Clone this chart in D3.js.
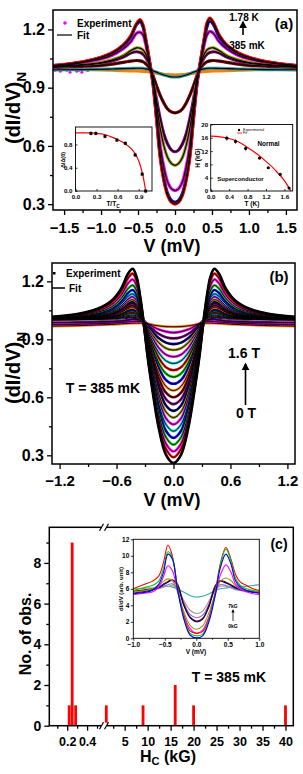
<!DOCTYPE html>
<html><head><meta charset="utf-8">
<script src="https://cdn.jsdelivr.net/npm/d3@7"></script>
<style>
body{margin:0;background:#fff}
svg{display:block}
</style></head><body>
<svg id="c" width="303" height="774"></svg>
<script>
// ---------------- DATA ----------------
// Panel (a): temperature series 385 mK -> 1.78 K
const aV = [-1.65,-1.25,-1.0,-0.85,-0.7,-0.6,-0.52,-0.47,-0.43,-0.4,-0.36,-0.33,-0.3,-0.25,-0.2,-0.15,-0.1,-0.05,0,0.05,0.1,0.15,0.2,0.25,0.3,0.33,0.36,0.4,0.43,0.47,0.52,0.6,0.7,0.85,1.0,1.25,1.65];
const aOrange = [0.998,0.994,0.992,0.99,0.988,0.987,0.986,0.985,0.984,0.983,0.982,0.98,0.978,0.975,0.972,0.969,0.967,0.966,0.965,0.966,0.967,0.969,0.972,0.975,0.978,0.98,0.982,0.983,0.984,0.985,0.986,0.987,0.988,0.99,0.992,0.994,0.997];
const aTeal = [0.992,0.993,0.995,0.996,0.998,0.999,1.0,1.0,0.999,0.997,0.994,0.991,0.987,0.98,0.972,0.965,0.96,0.956,0.955,0.956,0.96,0.965,0.972,0.98,0.987,0.991,0.994,0.997,0.999,1.0,1.0,0.999,0.998,0.996,0.995,0.993,0.992];
const aMaroon = [1.005,1.01,1.015,1.021,1.03,1.037,1.04,1.038,1.033,1.025,1.01,0.99,0.965,0.91,0.86,0.82,0.79,0.775,0.77,0.775,0.79,0.82,0.86,0.91,0.965,0.99,1.01,1.025,1.033,1.038,1.04,1.037,1.03,1.021,1.015,1.01,1.005];
const aPurple = [1.007,1.016,1.026,1.038,1.058,1.078,1.085,1.081,1.072,1.058,1.03,1.0,0.955,0.84,0.74,0.66,0.61,0.58,0.57,0.58,0.61,0.66,0.74,0.84,0.955,1.0,1.03,1.058,1.072,1.081,1.085,1.078,1.058,1.038,1.026,1.016,1.007];
const aOlive = [1.008,1.019,1.03,1.043,1.065,1.09,1.105,1.103,1.093,1.075,1.04,1.0,0.95,0.81,0.69,0.60,0.54,0.51,0.50,0.51,0.54,0.60,0.69,0.81,0.95,1.0,1.04,1.075,1.093,1.103,1.105,1.09,1.065,1.043,1.03,1.019,1.008];
const aMagenta = [1.005,1.03,1.048,1.067,1.10,1.135,1.18,1.185,1.17,1.13,1.06,1.0,0.94,0.77,0.60,0.49,0.415,0.38,0.37,0.38,0.415,0.49,0.60,0.77,0.94,1.0,1.06,1.13,1.17,1.19,1.18,1.135,1.10,1.067,1.048,1.03,1.012];
const aBlue = [1.013,1.032,1.055,1.077,1.115,1.16,1.225,1.24,1.21,1.155,1.07,1.0,0.93,0.745,0.55,0.43,0.355,0.32,0.31,0.32,0.355,0.43,0.55,0.745,0.93,1.0,1.07,1.155,1.21,1.245,1.225,1.16,1.115,1.077,1.055,1.032,1.013];
const aRed = [1.014,1.033,1.057,1.08,1.12,1.165,1.23,1.25,1.22,1.16,1.07,1.0,0.93,0.74,0.54,0.42,0.345,0.31,0.30,0.31,0.345,0.42,0.54,0.74,0.93,1.0,1.07,1.165,1.23,1.258,1.235,1.17,1.12,1.08,1.057,1.033,1.014];
const aSeries = [aOrange,aTeal,aMaroon,aPurple,aOlive,aMagenta,aBlue,aRed];
const aColors = ["#ff8000","#339999","#800000","#800080","#999900","#ff00ff","#0000ff","#ff0000"];
// scattered magenta points at the far left of (a)
const aScatterV = [-1.62,-1.58,-1.55,-1.5,-1.46,-1.42,-1.38,-1.33,-1.3,-1.26,-1.22,-1.18];
const aScatterY = [0.99,0.995,0.985,1.0,0.99,0.98,0.995,0.985,0.99,0.98,0.993,0.988];
const aXTicks = [-1.5,-1.0,-0.5,0.0,0.5,1.0,1.5];
const aYTicks = [0.3,0.6,0.9,1.2];

// Inset (a-left): gap vs T/Tc
const gapT = [0.22,0.29,0.42,0.59,0.71,0.85,0.95,1.0];
const gapV = [0.99,0.99,0.94,0.875,0.82,0.62,0.29,0.0];
const gapFitT = [0,0.2,0.3,0.4,0.5,0.6,0.7,0.8,0.85,0.9,0.95,0.975,0.99,1.0];
const gapFitV = [1.0,1.0,0.99,0.975,0.935,0.885,0.82,0.72,0.64,0.52,0.32,0.18,0.07,0.0];
// Inset (a-right): H vs T
const hcT = [0.35,0.54,0.76,1.06,1.25,1.51,1.70];
const hcH = [15.9,14.9,12.8,9.9,7.0,5.0,0.9];
const hcFitT = [0,0.2,0.4,0.6,0.8,1.0,1.2,1.4,1.6,1.74];
const hcFitH = [16.5,16.3,15.8,14.8,13.1,11.2,8.9,6.3,3.1,0];

// Panel (b): field series 0 T -> 1.6 T at 385 mK
const bV = [-1.28,-1.0,-0.8,-0.65,-0.55,-0.48,-0.43,-0.39,-0.35,-0.31,-0.27,-0.22,-0.16,-0.08,0,0.08,0.16,0.22,0.27,0.31,0.35,0.39,0.43,0.48,0.55,0.65,0.8,1.0,1.28];
const bCurves = [
[1.016,1.032,1.058,1.101,1.164,1.239,1.265,1.225,1.119,0.969,0.80,0.63,0.452,0.304,0.26,0.304,0.452,0.63,0.80,0.969,1.119,1.225,1.265,1.239,1.164,1.101,1.058,1.032,1.016],
[1.014,1.029,1.053,1.091,1.149,1.216,1.24,1.204,1.108,0.969,0.808,0.645,0.475,0.333,0.29,0.333,0.475,0.645,0.808,0.969,1.108,1.204,1.24,1.216,1.149,1.091,1.053,1.029,1.014],
[1.013,1.025,1.046,1.08,1.13,1.189,1.21,1.179,1.095,0.97,0.816,0.66,0.497,0.361,0.32,0.361,0.497,0.66,0.816,0.97,1.095,1.179,1.21,1.189,1.13,1.08,1.046,1.025,1.013],
[1.011,1.022,1.04,1.068,1.112,1.162,1.18,1.153,1.081,0.97,0.826,0.678,0.523,0.394,0.355,0.394,0.523,0.678,0.826,0.97,1.081,1.153,1.18,1.162,1.112,1.068,1.04,1.022,1.011],
[1.009,1.019,1.034,1.059,1.096,1.14,1.155,1.132,1.07,0.971,0.835,0.695,0.549,0.427,0.39,0.427,0.549,0.695,0.835,0.971,1.07,1.132,1.155,1.14,1.096,1.059,1.034,1.019,1.009],
[1.008,1.016,1.03,1.051,1.084,1.122,1.135,1.115,1.061,0.972,0.845,0.713,0.575,0.46,0.425,0.46,0.575,0.713,0.845,0.972,1.061,1.115,1.135,1.122,1.084,1.051,1.03,1.016,1.008],
[1.007,1.014,1.026,1.046,1.074,1.108,1.12,1.102,1.054,0.974,0.854,0.73,0.60,0.492,0.46,0.492,0.60,0.73,0.854,0.974,1.054,1.102,1.12,1.108,1.074,1.046,1.026,1.014,1.007],
[1.006,1.013,1.023,1.04,1.065,1.095,1.105,1.089,1.047,0.975,0.864,0.748,0.626,0.525,0.495,0.525,0.626,0.748,0.864,0.975,1.047,1.089,1.105,1.095,1.065,1.04,1.023,1.013,1.006],
[1.006,1.011,1.021,1.036,1.059,1.086,1.095,1.081,1.043,0.977,0.873,0.765,0.652,0.558,0.53,0.558,0.652,0.765,0.873,0.977,1.043,1.081,1.095,1.086,1.059,1.036,1.021,1.011,1.006],
[1.005,1.01,1.019,1.032,1.053,1.077,1.085,1.072,1.038,0.978,0.883,0.783,0.678,0.591,0.565,0.591,0.678,0.783,0.883,0.978,1.038,1.072,1.085,1.077,1.053,1.032,1.019,1.01,1.005],
[1.005,1.009,1.017,1.029,1.047,1.068,1.075,1.064,1.034,0.98,0.892,0.80,0.704,0.624,0.60,0.624,0.704,0.80,0.892,0.98,1.034,1.064,1.075,1.068,1.047,1.029,1.017,1.009,1.005],
[1.004,1.008,1.014,1.025,1.04,1.059,1.065,1.055,1.029,0.981,0.901,0.818,0.73,0.657,0.635,0.657,0.73,0.818,0.901,0.981,1.029,1.055,1.065,1.059,1.04,1.025,1.014,1.008,1.004],
[1.003,1.007,1.012,1.021,1.034,1.05,1.055,1.047,1.025,0.983,0.911,0.835,0.756,0.69,0.67,0.69,0.756,0.835,0.911,0.983,1.025,1.047,1.055,1.05,1.034,1.021,1.012,1.007,1.003],
[1.003,1.006,1.01,1.018,1.029,1.042,1.047,1.04,1.021,0.985,0.92,0.853,0.782,0.723,0.705,0.723,0.782,0.853,0.92,0.985,1.021,1.04,1.047,1.042,1.029,1.018,1.01,1.006,1.003],
[1.002,1.005,1.009,1.015,1.025,1.036,1.04,1.034,1.018,0.986,0.93,0.87,0.808,0.756,0.74,0.756,0.808,0.87,0.93,0.986,1.018,1.034,1.04,1.036,1.025,1.015,1.009,1.005,1.002],
[1.002,1.004,1.007,1.013,1.02,1.03,1.033,1.028,1.015,0.988,0.939,0.888,0.834,0.789,0.775,0.789,0.834,0.888,0.939,0.988,1.015,1.028,1.033,1.03,1.02,1.013,1.007,1.004,1.002],
[1.002,1.003,1.006,1.01,1.016,1.023,1.026,1.022,1.012,0.99,0.949,0.905,0.859,0.821,0.81,0.821,0.859,0.905,0.949,0.99,1.012,1.022,1.026,1.023,1.016,1.01,1.006,1.003,1.002],
[1.001,1.002,1.004,1.008,1.012,1.018,1.02,1.017,1.009,0.992,0.958,0.923,0.885,0.854,0.845,0.854,0.885,0.923,0.958,0.992,1.009,1.017,1.02,1.018,1.012,1.008,1.004,1.002,1.001],
[1.001,1.002,1.003,1.005,1.009,1.013,1.014,1.012,1.006,0.993,0.966,0.938,0.908,0.883,0.875,0.883,0.908,0.938,0.966,0.993,1.006,1.012,1.014,1.013,1.009,1.005,1.003,1.002,1.001],
[0.987,0.988,0.99,0.992,0.995,1.0,1.004,1.003,1.0,0.995,0.974,0.953,0.93,0.911,0.905,0.911,0.93,0.953,0.974,0.995,1.0,1.003,1.004,1.0,0.995,0.992,0.99,0.988,0.987],
[0.976,0.978,0.981,0.984,0.987,0.99,0.992,0.993,0.993,0.99,0.98,0.967,0.952,0.94,0.935,0.94,0.952,0.967,0.98,0.99,0.993,0.993,0.992,0.99,0.987,0.984,0.981,0.978,0.976],
[0.968,0.971,0.974,0.977,0.98,0.982,0.983,0.984,0.984,0.983,0.98,0.975,0.97,0.966,0.965,0.966,0.97,0.975,0.98,0.983,0.984,0.984,0.983,0.982,0.98,0.977,0.974,0.971,0.968]
];
const bColors = ["#000000","#ff0000","#ff00ff","#00cc00","#0000ff","#00cccc","#ff00ff","#999900","#000080","#800080","#800000","#ff8000","#0000ff","#00cc00","#ff0000","#00cccc","#ff00ff","#999900","#000080","#800080","#ff00ff","#ff8000"];
const bXTicks = [-1.2,-0.6,0.0,0.6,1.2];
const bYTicks = [0.3,0.6,0.9,1.2];

// Panel (c): histogram of critical fields (broken x axis)
const hcValues = [0.22,0.25,0.285,1.0,9,16,20,40];
const hcCounts = [1,9,1,1,1,2,1,1];
const cXTicksLow = [0.2,0.4];
const cXTicksHigh = [5,10,15,20,25,30,35,40];
const cYTicks = [0,2,4,6,8];
// Inset (c): dI/dV vs V, 0 kG -> 7 kG
const cV = [-1,-0.9,-0.8,-0.7,-0.6,-0.52,-0.45,-0.38,-0.3,-0.2,-0.1,0,0.1,0.2,0.3,0.38,0.47,0.55,0.62,0.7,0.8,0.9,1.0];
const cCurves = [
[6.0,6.0,6.1,6.1,6.2,6.3,6.3,6.2,6.0,5.6,5.2,5.0,5.1,5.4,5.8,6.0,6.1,6.2,6.2,6.3,6.3,6.4,6.5],
[5.7,5.8,5.8,5.9,6.0,6.2,6.3,6.4,6.0,4.6,3.4,3.0,3.3,4.5,5.9,6.3,6.3,6.1,5.9,5.8,5.7,5.6,5.6],
[5.6,5.7,5.8,5.9,6.1,6.3,6.5,6.6,6.1,4.3,2.9,2.5,2.8,4.1,5.9,6.5,6.4,6.2,6.0,5.8,5.7,5.6,5.5],
[5.7,5.8,5.9,6.0,6.2,6.6,6.9,7.1,6.6,4.2,2.6,2.1,2.4,4.0,6.4,7.0,6.8,6.5,6.2,6.0,5.8,5.7,5.6],
[5.5,5.6,5.7,5.9,6.1,6.5,6.8,7.0,6.4,4.0,2.5,2.0,2.3,3.8,6.2,6.9,6.7,6.4,6.1,5.9,5.7,5.6,5.5],
[5.6,5.7,5.8,6.0,6.4,6.9,7.2,7.0,5.7,3.3,1.6,1.1,1.5,3.1,5.4,6.9,7.3,7.0,6.4,6.0,5.8,5.7,5.6],
[5.3,5.4,5.5,5.6,6.2,7.5,8.8,8.2,5.8,2.9,1.2,0.6,1.0,2.6,5.2,7.6,8.9,8.0,6.6,6.0,5.6,5.4,5.3],
[6.0,6.3,6.6,6.9,7.5,9.2,11.3,10.0,6.3,2.8,0.9,0.6,0.8,2.4,5.6,9.0,11.0,9.6,7.8,6.8,6.4,6.0,5.8],
[5.8,6.0,6.2,6.4,6.9,8.5,10.5,9.8,6.2,2.6,0.6,0.3,0.5,2.2,5.4,8.8,10.8,9.4,7.3,6.4,6.0,5.8,5.6],
[5.4,5.5,5.6,5.8,6.5,8.0,10.2,9.6,6.0,2.4,0.4,0.05,0.3,2.0,5.2,8.5,10.2,9.0,7.0,6.2,5.8,5.6,5.5]
];
const cColors = ["#33aaaa","#999999","#9966cc","#800000","#000080","#999900","#ff00ff","#ff0000","#00cc00","#0000ff"];

// ---------------- DRAWING ----------------
const ARIAL = '"Liberation Sans", Arial, sans-serif';
const svg = d3.select("#c");
const defs = svg.append("defs");
defs.append("marker").attr("id","ah").attr("viewBox","0 0 10 10").attr("refX",8).attr("refY",5)
  .attr("markerWidth",5).attr("markerHeight",5).attr("orient","auto")
  .append("path").attr("d","M0,0 L10,5 L0,10 z").attr("fill","#000");
defs.append("marker").attr("id","ahs").attr("viewBox","0 0 10 10").attr("refX",8).attr("refY",5)
  .attr("markerWidth",4).attr("markerHeight",4).attr("orient","auto")
  .append("path").attr("d","M0,0 L10,5 L0,10 z").attr("fill","#000");

function txt(g, x, y, s, size, anchor, opts={}) {
  const t = g.append("text").attr("x",x).attr("y",y).text(s)
    .attr("font-family", opts.family || ARIAL).attr("font-weight", opts.weight || "bold")
    .attr("font-size", size).attr("text-anchor", anchor || "start").attr("fill", opts.fill || "#000");
  if (opts.dominant) t.attr("dominant-baseline", opts.dominant);
  return t;
}
function styleAxis(g, size, family) {
  g.select(".domain").remove();
  g.selectAll("line").attr("stroke","#000").attr("stroke-width",1.3);
  g.selectAll("text").attr("font-family", family || ARIAL).attr("font-weight","bold").attr("font-size",size).attr("fill","#000");
}
function frame(g, x0, y0, x1, y1, w) {
  g.append("rect").attr("x",x0).attr("y",y0).attr("width",x1-x0).attr("height",y1-y0)
    .attr("fill","none").attr("stroke","#000").attr("stroke-width",w||1.5);
}
function clip(id, x0, y0, x1, y1) {
  defs.append("clipPath").attr("id",id).append("rect").attr("x",x0).attr("y",y0).attr("width",x1-x0).attr("height",y1-y0);
  return "url(#"+id+")";
}
function yTitle(g, x, y, main, sub, size) {
  const t = g.append("text").attr("transform",`translate(${x},${y}) rotate(-90)`).attr("text-anchor","middle")
    .attr("font-family",ARIAL).attr("font-weight","bold").attr("font-size",size);
  t.append("tspan").text(main);
  if (sub) t.append("tspan").text(sub).attr("font-size",size*0.68).attr("dy",size*0.3);
  return t;
}
const minorBetween = (arr, step) => arr.slice(0,-1).map((v,i)=>+(v+step).toFixed(3));

// ===== Panel (a) =====
{
  const L=53,R=297,T=10,B=210;
  const x = d3.scaleLinear([-1.65,1.65],[L,R]);
  const y = d3.scaleLinear([0.27,1.30],[B,T]);
  const g = svg.append("g");
  const cp = clip("clipA",L,T,R,B);
  const line = d3.line().x((d,i)=>x(aV[i])).y(d=>y(d)).curve(d3.curveCatmullRom.alpha(0.5));
  const cg = g.append("g").attr("clip-path",cp);
  cg.selectAll("circle.sc").data(aScatterY).enter().append("circle").attr("class","sc")
    .attr("cx",(d,i)=>x(aScatterV[i])).attr("cy",d=>y(d)).attr("r",1.5).attr("fill","#ff00ff");
  aSeries.forEach((s,k)=>cg.append("path").attr("d",line(s)).attr("fill","none").attr("stroke",aColors[k]).attr("stroke-width",3.2).attr("stroke-linecap","round"));
  aSeries.forEach((s,k)=>{ if(k>0) cg.append("path").attr("d",line(s)).attr("fill","none").attr("stroke","#000").attr("stroke-width",1.1); });

  // axes
  const xMin = [-1.25,-0.75,-0.25,0.25,0.75,1.25];
  const yMin = minorBetween(aYTicks,0.15);
  const gx = g.append("g").attr("transform",`translate(0,${B})`).call(d3.axisBottom(x).tickValues(aXTicks).tickSize(5).tickPadding(7).tickFormat(d3.format(".1f")));
  styleAxis(gx,15);
  const gx2 = g.append("g").attr("transform",`translate(0,${B})`).call(d3.axisBottom(x).tickValues(xMin).tickSize(3).tickFormat(""));
  styleAxis(gx2,15);
  const gy = g.append("g").attr("transform",`translate(${L},0)`).call(d3.axisLeft(y).tickValues(aYTicks).tickSize(5).tickPadding(3).tickFormat(d3.format(".1f")));
  styleAxis(gy,16);
  const gy2 = g.append("g").attr("transform",`translate(${L},0)`).call(d3.axisLeft(y).tickValues(yMin).tickSize(3).tickFormat(""));
  styleAxis(gy2,16);
  frame(g,L,T,R,B,1.5);
  txt(g,172,252,"V (mV)",18,"middle");
  yTitle(g,20,108,"(dI/dV)","N",20);

  // legend
  g.append("circle").attr("cx",65).attr("cy",23).attr("r",1.8).attr("fill","#ff00ff");
  txt(g,77,23,"Experiment",10,"start",{dominant:"central"});
  g.append("line").attr("x1",57).attr("x2",72).attr("y1",35).attr("y2",35).attr("stroke","#333").attr("stroke-width",1.5);
  txt(g,77,35,"Fit",10,"start",{dominant:"central"});
  txt(g,244,17,"1.78 K",10,"middle",{dominant:"central"});
  g.append("line").attr("x1",243).attr("x2",243).attr("y1",35).attr("y2",22).attr("stroke","#000").attr("stroke-width",1.6).attr("marker-end","url(#ah)");
  txt(g,247,45,"385 mK",10,"middle",{dominant:"central"});
  txt(g,284,23,"(a)",15,"middle",{dominant:"central"});

  // left inset
  {
    const l=75.5,r=152,t=127,b=191;
    const xi = d3.scaleLinear([0,1.09],[l,r]);
    const yi = d3.scaleLinear([0,1.1],[b,t]);
    g.append("rect").attr("x",l).attr("y",t).attr("width",r-l).attr("height",b-t).attr("fill","#fff");
    const ig = g.append("g");
    const ax1 = ig.append("g").attr("transform",`translate(0,${b})`).call(d3.axisBottom(xi).tickValues([0,0.3,0.6,0.9]).tickSize(-2).tickPadding(3.5).tickFormat(d3.format(".1f")));
    styleAxis(ax1,6.2);
    const ay1 = ig.append("g").attr("transform",`translate(${l},0)`).call(d3.axisLeft(yi).tickValues([0,0.4,0.8]).tickSize(-2).tickPadding(3).tickFormat(d3.format(".1f")));
    styleAxis(ay1,6.2);
    ig.selectAll("line").attr("stroke-width",0.8);
    const fl = d3.line().x((d,i)=>xi(gapFitT[i])).y(d=>yi(d)).curve(d3.curveMonotoneX);
    ig.append("path").attr("d",fl(gapFitV)).attr("fill","none").attr("stroke","#ff0000").attr("stroke-width",1.2);
    gapT.forEach((tv,i)=>{
      ig.append("line").attr("x1",xi(tv)).attr("x2",xi(tv)).attr("y1",yi(gapV[i]-0.035)).attr("y2",yi(gapV[i]+0.035)).attr("stroke","#666").attr("stroke-width",0.8);
      ig.append("rect").attr("x",xi(tv)-1.5).attr("y",yi(gapV[i])-1.5).attr("width",3).attr("height",3).attr("fill","#000");
    });
    frame(ig,l,t,r,b,0.9);
    const tt = txt(ig,113,206,"T/T",6.5,"middle");
    tt.append("tspan").text("C").attr("font-size",4.8).attr("dy",1.5);
    ig.append("text").attr("transform","translate(65,160) rotate(-90)").attr("text-anchor","middle")
      .attr("font-family",ARIAL).attr("font-weight","bold").attr("font-size",5.5).text("Δ/Δ(0)");
  }
  // right inset
  {
    const l=210.7,r=292.7,t=124.5,b=191;
    const xi = d3.scaleLinear([0,1.78],[l,r]);
    const yi = d3.scaleLinear([0,20],[b,t]);
    g.append("rect").attr("x",l).attr("y",t).attr("width",r-l).attr("height",b-t).attr("fill","#fff");
    const ig = g.append("g");
    const ax1 = ig.append("g").attr("transform",`translate(0,${b})`).call(d3.axisBottom(xi).tickValues([0,0.4,0.8,1.2,1.6]).tickSize(-2).tickPadding(3.5).tickFormat(d3.format(".1f")));
    styleAxis(ax1,6.2);
    const ay1 = ig.append("g").attr("transform",`translate(${l},0)`).call(d3.axisLeft(yi).tickValues([0,4,8,12,16,20]).tickSize(-2).tickPadding(2.5).tickFormat(d3.format("d")));
    styleAxis(ay1,6.2);
    ig.selectAll("line").attr("stroke-width",0.8);
    const fl = d3.line().x((d,i)=>xi(hcFitT[i])).y(d=>yi(d)).curve(d3.curveMonotoneX);
    ig.append("path").attr("d",fl(hcFitH)).attr("fill","none").attr("stroke","#ff0000").attr("stroke-width",1.2);
    hcT.forEach((tv,i)=>{
      if(i<3) ig.append("line").attr("x1",xi(tv)).attr("x2",xi(tv)).attr("y1",yi(hcH[i]-0.8)).attr("y2",yi(hcH[i]+0.8)).attr("stroke","#666").attr("stroke-width",0.8);
      ig.append("circle").attr("cx",xi(tv)).attr("cy",yi(hcH[i])).attr("r",1.6).attr("fill","#000");
    });
    frame(ig,l,t,r,b,0.9);
    ig.append("circle").attr("cx",239).attr("cy",130).attr("r",1.2).attr("fill","#000");
    txt(ig,243,130,"Experimental",3.6,"start",{dominant:"central",weight:"normal"});
    ig.append("line").attr("x1",237).attr("x2",242).attr("y1",133).attr("y2",133).attr("stroke","#ff0000").attr("stroke-width",0.8);
    txt(ig,243,133.2,"Fit",3.6,"start",{dominant:"central",weight:"normal"});
    txt(ig,268.5,143.5,"Normal",6.4,"middle",{dominant:"central"});
    txt(ig,240.5,178.5,"Superconductor",6,"middle",{dominant:"central"});
    txt(ig,252,206,"T (K)",6.5,"middle");
    ig.append("text").attr("transform","translate(200,158) rotate(-90)").attr("text-anchor","middle")
      .attr("font-family",ARIAL).attr("font-weight","bold").attr("font-size",6.5).text("H (kG)");
  }
}

// ===== Panel (b) =====
{
  const L=52,R=295,T=263,B=464;
  const x = d3.scaleLinear([-1.28,1.28],[L,R]);
  const y = d3.scaleLinear([0.255,1.295],[B,T]);
  const g = svg.append("g");
  const cp = clip("clipB",L,T,R,B);
  const line = d3.line().x((d,i)=>x(bV[i])).y(d=>y(d)).curve(d3.curveCatmullRom.alpha(0.5));
  const cg = g.append("g").attr("clip-path",cp);
  for (let k=bCurves.length-1;k>=0;k--) {
    cg.append("path").attr("d",line(bCurves[k])).attr("fill","none").attr("stroke",bColors[k]).attr("stroke-width",2.6);
  }
  for (let k=bCurves.length-1;k>=0;k--) {
    cg.append("path").attr("d",line(bCurves[k])).attr("fill","none").attr("stroke","#000").attr("stroke-width",k===0?1.6:0.9);
  }
  const xMin = [-0.9,-0.3,0.3,0.9];
  const yMin = minorBetween(bYTicks,0.15);
  const gx = g.append("g").attr("transform",`translate(0,${B})`).call(d3.axisBottom(x).tickValues(bXTicks).tickSize(5).tickPadding(6).tickFormat(d3.format(".1f")));
  styleAxis(gx,15);
  const gx2 = g.append("g").attr("transform",`translate(0,${B})`).call(d3.axisBottom(x).tickValues(xMin).tickSize(3).tickFormat(""));
  styleAxis(gx2,15);
  const gy = g.append("g").attr("transform",`translate(${L},0)`).call(d3.axisLeft(y).tickValues(bYTicks).tickSize(5).tickPadding(3).tickFormat(d3.format(".1f")));
  styleAxis(gy,16);
  const gy2 = g.append("g").attr("transform",`translate(${L},0)`).call(d3.axisLeft(y).tickValues(yMin).tickSize(3).tickFormat(""));
  styleAxis(gy2,16);
  frame(g,L,T,R,B,1.5);
  txt(g,172,506,"V (mV)",18,"middle");
  yTitle(g,20,368,"(dI/dV)","N",20);

  g.append("rect").attr("x",53).attr("y",272).attr("width",2.5).attr("height",2.5).attr("fill","#000");
  txt(g,66,273.5,"Experiment",10,"start",{dominant:"central"});
  g.append("line").attr("x1",52).attr("x2",65).attr("y1",288).attr("y2",288).attr("stroke","#000").attr("stroke-width",1.5);
  txt(g,69,288,"Fit",10,"start",{dominant:"central"});
  txt(g,279,276,"(b)",15,"middle",{dominant:"central"});
  txt(g,103,388,"T = 385 mK",14,"middle",{dominant:"central"});
  txt(g,244,353,"1.6 T",14,"middle",{dominant:"central"});
  g.append("line").attr("x1",245.5).attr("x2",245.5).attr("y1",405).attr("y2",364).attr("stroke","#000").attr("stroke-width",1.6).attr("marker-end","url(#ah)");
  txt(g,246,413,"0 T",14,"middle",{dominant:"central"});
}

// ===== Panel (c) =====
{
  const L=49.3,R=293.3,T=527.3,B=725.7,BRK=104;
  const x1 = d3.scaleLinear([0.02,0.57],[L,BRK]);
  const x2 = d3.scaleLinear([0.5,41.7],[BRK,R]);
  const xs = v => v < 0.6 ? x1(v) : x2(v);
  const y = d3.scaleLinear([0,9.75],[B,T]);
  const g = svg.append("g");
  // bars
  g.selectAll("rect.bar").data(hcValues).enter().append("rect").attr("class","bar")
    .attr("x",d=>xs(d)-1.4).attr("width",2.8)
    .attr("y",(d,i)=>y(hcCounts[i])).attr("height",(d,i)=>B-y(hcCounts[i])).attr("fill","#ff0000");
  // axes
  const gy = g.append("g").attr("transform",`translate(${L},0)`).call(d3.axisLeft(y).tickValues(cYTicks).tickSize(5).tickPadding(3).tickFormat(d3.format("d")));
  styleAxis(gy,14);
  const gy2 = g.append("g").attr("transform",`translate(${L},0)`).call(d3.axisLeft(y).tickValues([1,3,5,7,9]).tickSize(3).tickFormat(""));
  styleAxis(gy2,14);
  const gxa = g.append("g").attr("transform",`translate(0,${B})`).call(d3.axisBottom(x1).tickValues(cXTicksLow).tickSize(5).tickPadding(6).tickFormat(d3.format(".1f")));
  styleAxis(gxa,12.5);
  const gxa2 = g.append("g").attr("transform",`translate(0,${B})`).call(d3.axisBottom(x1).tickValues([0.1,0.3,0.5]).tickSize(3).tickFormat(""));
  styleAxis(gxa2,12);
  const gxb = g.append("g").attr("transform",`translate(0,${B})`).call(d3.axisBottom(x2).tickValues(cXTicksHigh).tickSize(5).tickPadding(6).tickFormat(d3.format("d")));
  styleAxis(gxb,12.5);
  const gxb2 = g.append("g").attr("transform",`translate(0,${B})`).call(d3.axisBottom(x2).tickValues([2.5,7.5,12.5,17.5,22.5,27.5,32.5,37.5]).tickSize(3).tickFormat(""));
  styleAxis(gxb2,12);
  frame(g,L,T,R,B,1.5);
  // axis breaks
  [T,B].forEach(yy=>{
    g.append("rect").attr("x",BRK-3).attr("y",yy-3).attr("width",6).attr("height",6).attr("fill","#fff");
    g.append("line").attr("x1",BRK-4.5).attr("x2",BRK-0.5).attr("y1",yy+3.5).attr("y2",yy-3.5).attr("stroke","#000").attr("stroke-width",1.2);
    g.append("line").attr("x1",BRK+0.5).attr("x2",BRK+4.5).attr("y1",yy+3.5).attr("y2",yy-3.5).attr("stroke","#000").attr("stroke-width",1.2);
  });
  const ht = txt(g,168,762,"H",16,"middle");
  ht.append("tspan").text("C").attr("font-size",11).attr("dy",3);
  ht.append("tspan").text(" (kG)").attr("dy",-3);
  g.append("text").attr("transform","translate(31,634) rotate(-90)").attr("text-anchor","middle")
    .attr("font-family",ARIAL).attr("font-weight","bold").attr("font-size",16).text("No. of obs.");
  txt(g,229,677,"T = 385 mK",14,"middle",{dominant:"central"});
  txt(g,279,544,"(c)",14,"middle",{dominant:"central"});

  // inset
  {
    const l=133.3,r=259.3,t=539.3,b=638.3;
    const xi = d3.scaleLinear([-1,1],[l,r]);
    const yi = d3.scaleLinear([0,12],[b,t]);
    const ig = g.append("g");
    ig.append("rect").attr("x",l).attr("y",t).attr("width",r-l).attr("height",b-t).attr("fill","#fff");
    const icp = clip("clipCI",l,t,r,b);
    const line = d3.line().x((d,i)=>xi(cV[i])).y(d=>yi(d)).curve(d3.curveCatmullRom.alpha(0.5));
    const lg = ig.append("g").attr("clip-path",icp);
    cCurves.forEach((s,k)=>lg.append("path").attr("d",line(s)).attr("fill","none").attr("stroke",cColors[k]).attr("stroke-width",1.1));
    const ax1 = ig.append("g").attr("transform",`translate(0,${b})`).call(d3.axisBottom(xi).tickValues([-1,-0.5,0,0.5,1]).tickSize(2.5).tickPadding(1.5).tickFormat(d3.format(".1f")));
    styleAxis(ax1,6.5);
    const ax2 = ig.append("g").attr("transform",`translate(0,${b})`).call(d3.axisBottom(xi).tickValues([-0.75,-0.25,0.25,0.75]).tickSize(1.5).tickFormat(""));
    styleAxis(ax2,6.5);
    const ay1 = ig.append("g").attr("transform",`translate(${l},0)`).call(d3.axisLeft(yi).tickValues([0,2,4,6,8,10,12]).tickSize(2.5).tickPadding(1.5).tickFormat(d3.format("d")));
    styleAxis(ay1,6.5);
    ig.selectAll("line").attr("stroke-width",0.8);
    frame(ig,l,t,r,b,0.9);
    txt(ig,196,654,"V (mV)",6.5,"middle");
    ig.append("text").attr("transform","translate(123,589) rotate(-90)").attr("text-anchor","middle")
      .attr("font-family",ARIAL).attr("font-weight","bold").attr("font-size",6).text("dI/dV (arb. unit)");
    txt(ig,233,606,"7kG",5,"middle",{dominant:"central"});
    ig.append("line").attr("x1",233).attr("x2",233).attr("y1",621).attr("y2",610).attr("stroke","#000").attr("stroke-width",0.8).attr("marker-end","url(#ahs)");
    txt(ig,233,626,"0kG",5,"middle",{dominant:"central"});
  }
}
</script>
</body></html>
